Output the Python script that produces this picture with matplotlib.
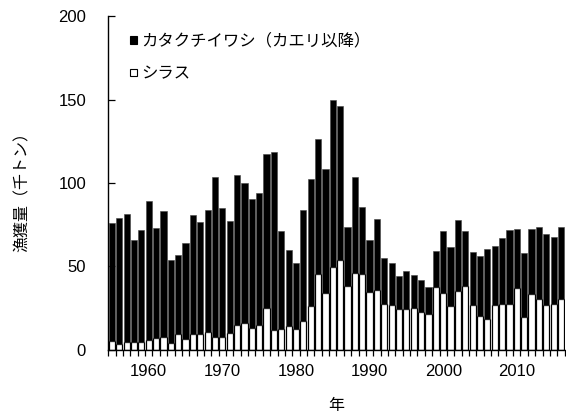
import matplotlib
matplotlib.use('Agg')
import matplotlib.pyplot as plt
from matplotlib.ticker import FixedLocator

# Data (catch, thousand tonnes)
years = list(range(1955, 2017))

shirasu = [5.6, 3.4, 5.0, 5.0, 5.0, 6.0, 7.0, 7.6, 4.4, 9.4,
           6.6, 9.4, 9.4, 11.0, 8.0, 8.0, 10.0, 15.0, 16.0, 13.4,
           14.8, 25.0, 12.0, 12.6, 14.4, 12.6, 17.2, 26.3, 45.3, 33.9,
           49.9, 53.9, 38.3, 46.3, 45.3, 34.5, 35.9, 27.7, 26.9, 24.8,
           24.8, 25.4, 22.7, 21.4, 37.5, 34.3, 26.5, 35.5, 38.3, 26.7,
           20.6, 18.4, 26.7, 27.7, 27.3, 36.9, 19.9, 33.3, 30.3, 26.7,
           27.3, 30.5]

katakuchi = [70.3, 75.5, 76.6, 61.1, 66.9, 83.0, 65.9, 75.6, 49.7, 47.7,
             57.3, 71.4, 67.0, 72.8, 95.8, 77.2, 67.2, 89.6, 84.0, 77.2,
             79.2, 92.2, 106.6, 58.5, 45.5, 39.3, 66.6, 75.9, 80.9, 74.3,
             99.8, 92.2, 35.5, 57.5, 40.1, 31.4, 42.7, 27.2, 25.0, 19.7,
             22.7, 19.8, 19.5, 16.5, 21.8, 37.0, 35.2, 42.3, 33.0, 32.0,
             35.7, 41.9, 35.6, 39.2, 44.6, 35.8, 38.0, 39.4, 43.1, 43.0,
             40.1, 42.9]

label_years = [1960, 1970, 1980, 1990, 2000, 2010]
y_ticks = [0, 50, 100, 150, 200]

JP = ['Noto Sans CJK JP', 'DejaVu Sans']
NUM = ['Liberation Sans', 'DejaVu Sans']

fig = plt.figure(figsize=(5.66, 4.19), dpi=100)
ax = fig.add_axes([0.1913, 0.1647, 0.8063, 0.7971])

b_shirasu = ax.bar(years, shirasu, width=0.84, color='white', edgecolor='black',
                   linewidth=0.9, zorder=2)
b_kata = ax.bar(years, katakuchi, bottom=shirasu, width=0.84, color='black',
                edgecolor='#444444', linewidth=0.4, zorder=2)

ax.set_xlim(years[0] - 0.5, years[-1] + 0.5)
ax.set_ylim(0, 200)

# ticks between bars, labels every 10 years
ax.xaxis.set_major_locator(FixedLocator(label_years))
ax.xaxis.set_minor_locator(FixedLocator([y - 0.5 for y in years] + [years[-1] + 0.5]))
ax.tick_params(axis='x', which='major', length=0, pad=10)
ax.tick_params(axis='x', which='minor', direction='out', length=4, width=0.9)
ax.set_yticks(y_ticks)
ax.tick_params(axis='y', direction='in', length=5, width=0.9, pad=16)
for lab in ax.get_xticklabels() + ax.get_yticklabels():
    lab.set_family(NUM)
    lab.set_fontsize(12)

for s in ['top', 'right']:
    ax.spines[s].set_visible(False)
for s in ['left', 'bottom']:
    ax.spines[s].set_linewidth(1.0)

ax.set_ylabel('漁獲量（千トン）', family=JP, fontsize=11.5)
ax.yaxis.set_label_coords(-0.170, 0.485)
ax.set_xlabel('年', family=JP, fontsize=11.5)
ax.xaxis.set_label_coords(0.5, -0.14)

leg = ax.legend([b_kata, b_shirasu], ['カタクチイワシ（カエリ以降）', 'シラス'],
                loc='upper left', bbox_to_anchor=(0.048, 0.95), frameon=False,
                prop={'family': JP, 'size': 11.8}, handlelength=0.4,
                handleheight=0.35, handletextpad=0.3, labelspacing=0.95,
                borderpad=0, borderaxespad=0)
for h in leg.legend_handles:
    h.set_linewidth(0.8)
    h.set_edgecolor('black')

fig.savefig('out.png', dpi=100)
